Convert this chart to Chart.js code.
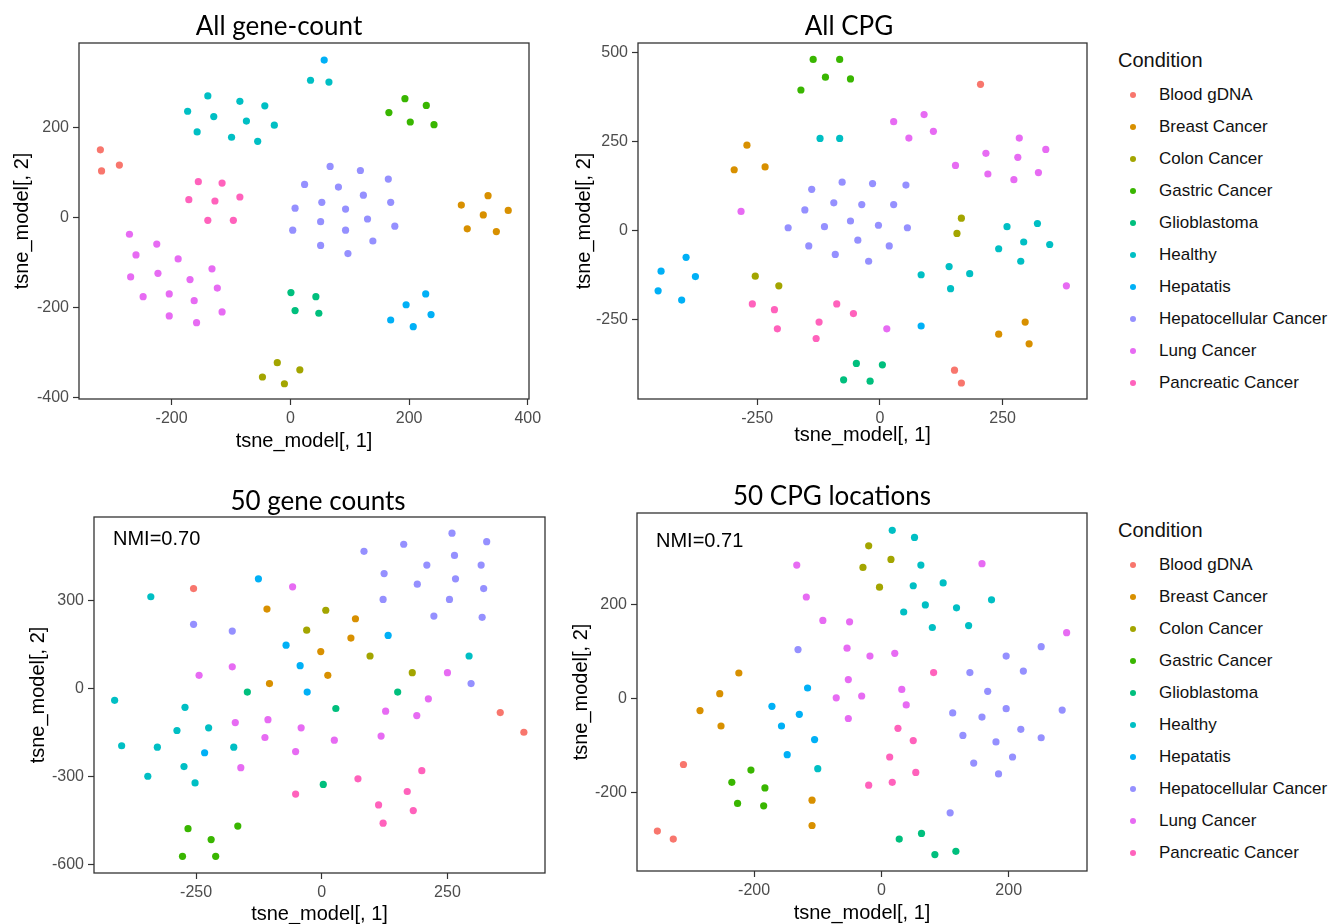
<!DOCTYPE html>
<html>
<head>
<meta charset="utf-8">
<title>t-SNE panels</title>
<script src="https://cdn.jsdelivr.net/npm/chart.js@4.4.1/dist/chart.umd.min.js"></script>
<style>
  body { margin: 0; background: #fff; width: 1330px; height: 924px; overflow: hidden; position: relative;
         font-family: "Liberation Sans", Arial, sans-serif; }
  .panel { position: absolute; }
  .title { position: absolute; font-family: Lato, "Open Sans", sans-serif; font-size: 26px; line-height: 1;
           transform: translateX(-50%); white-space: nowrap; color: #000; }
  .legend { position: absolute; color: #111; }
  .legend h4 { margin: 0; font-weight: normal; font-size: 20px; line-height: 1; }
  .legend .row { position: absolute; left: 0; height: 20px; display: flex; align-items: center; font-size: 17px; white-space: nowrap; }
  .legend .dot { width: 6px; height: 6px; border-radius: 50%; margin-left: 12px; margin-right: 23px; }
</style>
</head>
<body>
<script>
// conditions and ggplot hue colours
const conditions = ['Blood gDNA', 'Breast Cancer', 'Colon Cancer', 'Gastric Cancer', 'Glioblastoma',
  'Healthy', 'Hepatatis', 'Hepatocellular Cancer', 'Lung Cancer', 'Pancreatic Cancer'];
const colors = ['#F8766D', '#D89000', '#A3A500', '#39B600', '#00BF7D',
  '#00BFC4', '#00B0F6', '#9590FF', '#E76BF3', '#FF62BC'];

// points per condition, [tsne1, tsne2]
const allGenePts = [
  [[-320,151],[-318,104],[-288,117]],
  [[288,28],[333,49],[325,6],[367,16],[298,-25],[347,-31]],
  [[-47,-355],[-22,-323],[-10,-370],[16,-339]],
  [[193,265],[229,250],[166,234],[202,213],[242,207]],
  [[1,-167],[8,-207],[43,-176],[48,-213]],
  [[-173,237],[-139,271],[-157,191],[-129,225],[-85,259],[-74,215],[-99,179],[-43,249],[-27,206],[-55,170],[34,306],[65,302]],
  [[57,351],[228,-170],[195,-194],[169,-228],[237,-216],[207,-243]],
  [[24,74],[8,21],[4,-28],[67,114],[118,105],[81,68],[165,86],[53,34],[123,50],[93,19],[169,34],[51,-9],[130,-3],[93,-28],[176,-19],[51,-62],[139,-52],[97,-80]],
  [[-271,-37],[-225,-59],[-260,-83],[-189,-92],[-269,-132],[-223,-124],[-132,-114],[-169,-138],[-123,-157],[-248,-176],[-204,-170],[-162,-185],[-115,-210],[-204,-219],[-158,-234]],
  [[-155,80],[-115,77],[-171,40],[-127,37],[-85,46],[-139,-6],[-96,-6]]
];
const allCpgPts = [
  [[205,411],[152,-392],[166,-428]],
  [[-271,240],[-297,171],[-234,179],[296,-257],[242,-291],[304,-318]],
  [[166,35],[157,-8],[-254,-128],[-206,-155]],
  [[-136,481],[-111,431],[-161,395],[-82,481],[-60,426]],
  [[-48,-373],[5,-377],[-74,-419],[-20,-423]],
  [[-122,259],[-82,259],[259,11],[321,20],[242,-51],[293,-32],[346,-39],[287,-86],[141,-101],[183,-121],[84,-124],[144,-163]],
  [[-395,-75],[-446,-114],[-376,-129],[-452,-169],[-404,-195],[84,-268]],
  [[-139,116],[-153,58],[-187,8],[-113,11],[-145,-43],[-77,136],[-15,132],[53,128],[-94,78],[-37,73],[28,73],[-60,27],[-3,15],[56,8],[-45,-27],[19,-43],[-91,-67],[-23,-86]],
  [[-283,54],[28,306],[90,326],[109,279],[59,260],[284,260],[338,228],[216,217],[281,206],[154,183],[220,159],[273,143],[323,163],[380,-155],[14,-276]],
  [[-260,-206],[-215,-222],[-209,-276],[-124,-257],[-130,-303],[-88,-206],[-54,-233]]
];
const top50GenePts = [
  [[-255,340],[355,-83],[402,-150]],
  [[-109,270],[-104,16],[-2,125],[67,237],[58,171],[12,44]],
  [[-30,198],[8,266],[96,110],[180,53]],
  [[-266,-479],[-167,-470],[-220,-516],[-277,-573],[-211,-573]],
  [[-148,-13],[28,-69],[151,-13],[3,-328]],
  [[-340,312],[-412,-41],[-398,-196],[-272,-65],[-288,-144],[-225,-135],[-327,-201],[-346,-300],[-274,-267],[-252,-323],[-175,-201],[293,110]],
  [[-126,373],[-71,147],[-43,77],[-29,-13],[-233,-220],[132,180]],
  [[-255,218],[-178,195],[259,529],[328,500],[163,491],[84,467],[264,453],[209,420],[317,420],[124,391],[266,373],[190,355],[322,340],[122,303],[254,303],[223,246],[319,242],[297,16]],
  [[-58,346],[-178,73],[-244,44],[-172,-117],[-107,-107],[-113,-168],[-41,-135],[-52,-216],[-161,-271],[25,-177],[127,-78],[118,-163],[189,-93],[212,-36],[250,53]],
  [[-52,-361],[72,-309],[199,-281],[170,-352],[113,-398],[182,-417],[122,-460]]
];
const top50CpgPts = [
  [[-352,-282],[-327,-299],[-311,-140]],
  [[-224,55],[-254,11],[-285,-25],[-252,-58],[-109,-216],[-109,-270]],
  [[-20,326],[15,297],[-29,280],[-3,238]],
  [[-205,-152],[-235,-178],[-183,-190],[-226,-223],[-185,-228]],
  [[28,-299],[63,-287],[84,-332],[117,-325]],
  [[-100,-149],[17,359],[52,344],[62,285],[50,241],[97,247],[173,211],[69,200],[118,194],[35,185],[80,152],[137,156]],
  [[-172,-16],[-129,-33],[-116,23],[-157,-58],[-105,-87],[-148,-119]],
  [[-131,105],[196,91],[251,111],[139,56],[223,59],[167,16],[112,-30],[158,-39],[196,-21],[284,-24],[128,-78],[180,-92],[219,-65],[251,-83],[145,-137],[206,-124],[184,-160],[108,-243]],
  [[-133,285],[-118,217],[-92,167],[-71,2],[158,288],[-50,164],[-54,108],[-18,91],[21,97],[-52,41],[-31,6],[32,20],[39,-13],[-52,-42],[291,141]],
  [[82,56],[26,-63],[50,-89],[13,-124],[54,-157],[-20,-184],[17,-178]]
];

// tick values
const allGeneXTicks = [-200, 0, 200, 400];
const allGeneYTicks = [-400, -200, 0, 200];
const allCpgXTicks = [-250, 0, 250];
const allCpgYTicks = [-250, 0, 250, 500];
const top50GeneXTicks = [-250, 0, 250];
const top50GeneYTicks = [-600, -300, 0, 300];
const top50CpgXTicks = [-200, 0, 200];
const top50CpgYTicks = [-200, 0, 200];

// axis limits (ggplot default expansion)
const allGeneLimits = [-356, 402, -404, 389];
const allCpgLimits = [-493, 422, -473, 527];
const top50GeneLimits = [-453, 444, -630, 584];
const top50CpgLimits = [-384, 323, -367, 396];

const panelTitles = ['All gene-count', 'All CPG', '50 gene counts', '50 CPG locations'];
const nmiLabels = [null, null, 'NMI=0.70', 'NMI=0.71'];

// layout: canvas position and plot box inside it
const layouts = [
  { left: 0,   top: 0,   w: 560, h: 460, yW: 79, xH: 61, padTop: 43, padRight: 31, yTitlePad: 12, xTitlePad: 9, titleX: 279, titleY: 12, nmi: null },
  { left: 560, top: 0,   w: 540, h: 460, yW: 78, xH: 61, padTop: 43, padRight: 13, yTitlePad: 14, xTitlePad: 15, titleX: 849, titleY: 12, nmi: null },
  { left: 0,   top: 470, w: 560, h: 454, yW: 94, xH: 51, padTop: 47, padRight: 15, yTitlePad: 28, xTitlePad: 0, titleX: 318, titleY: 487, nmi: [19, 22] },
  { left: 560, top: 470, w: 540, h: 454, yW: 77, xH: 53, padTop: 43, padRight: 13, yTitlePad: 11, xTitlePad: 1, titleX: 832, titleY: 482, nmi: [19, 28] }
];

const framePlugin = {
  id: 'frame',
  afterDraw(chart, args, opts) {
    const { ctx, chartArea: a } = chart;
    ctx.save();
    ctx.strokeStyle = '#333';
    ctx.lineWidth = 1.3;
    ctx.strokeRect(a.left, a.top, a.right - a.left, a.bottom - a.top);
    if (opts.text) {
      ctx.fillStyle = '#000';
      ctx.font = '20px "Liberation Sans", Arial, sans-serif';
      ctx.textBaseline = 'middle';
      ctx.fillText(opts.text, a.left + opts.dx, a.top + opts.dy);
    }
    ctx.restore();
  }
};

function axis(ticks, lim, fit, titleText, titlePad, horizontal) {
  return {
    type: 'linear',
    min: lim[0],
    max: lim[1],
    afterBuildTicks: (s) => { s.ticks = ticks.map(v => ({ value: v })); },
    afterFit: (s) => { if (horizontal) s.height = fit; else s.width = fit; },
    grid: { drawOnChartArea: false, tickLength: 6, tickColor: '#333', tickWidth: 1.2 },
    border: { display: false },
    ticks: { color: '#4D4D4D', padding: 4, font: { size: 16, family: '"Liberation Sans", Arial, sans-serif' } },
    title: {
      display: true, text: titleText, color: '#000',
      padding: horizontal ? { top: 0, bottom: titlePad } : { top: titlePad, bottom: 0 },
      font: { size: 20, family: '"Liberation Sans", Arial, sans-serif', lineHeight: 1 }
    }
  };
}

function makePanel(i, pts, xTicks, yTicks, lim) {
  const L = layouts[i];
  const wrap = document.createElement('div');
  wrap.className = 'panel';
  wrap.style.cssText = `left:${L.left}px;top:${L.top}px;width:${L.w}px;height:${L.h}px;`;
  const cv = document.createElement('canvas');
  wrap.appendChild(cv);
  document.body.appendChild(wrap);

  const t = document.createElement('div');
  t.className = 'title';
  t.textContent = panelTitles[i];
  t.style.left = L.titleX + 'px';
  t.style.top = L.titleY + 'px';
  document.body.appendChild(t);

  new Chart(cv, {
    type: 'scatter',
    data: {
      datasets: conditions.map((c, k) => ({
        label: c,
        data: pts[k].map(p => ({ x: p[0], y: p[1] })),
        backgroundColor: colors[k],
        borderWidth: 0,
        pointRadius: 3.6,
        pointHoverRadius: 3.6
      }))
    },
    options: {
      responsive: true,
      maintainAspectRatio: false,
      animation: false,
      events: [],
      layout: { padding: { top: L.padTop, right: L.padRight, left: 0, bottom: 0 } },
      scales: {
        x: axis(xTicks, [lim[0], lim[1]], L.xH, 'tsne_model[, 1]', L.xTitlePad, true),
        y: axis(yTicks, [lim[2], lim[3]], L.yW, 'tsne_model[, 2]', L.yTitlePad, false)
      },
      plugins: {
        legend: { display: false },
        tooltip: { enabled: false },
        frame: L.nmi ? { text: nmiLabels[i], dx: L.nmi[0], dy: L.nmi[1] } : {}
      }
    },
    plugins: [framePlugin]
  });
}

function makeLegend(left, top) {
  const lg = document.createElement('div');
  lg.className = 'legend';
  lg.style.left = left + 'px';
  lg.style.top = top + 'px';
  const h = document.createElement('h4');
  h.textContent = 'Condition';
  lg.appendChild(h);
  conditions.forEach((c, k) => {
    const row = document.createElement('div');
    row.className = 'row';
    row.style.top = (35 + k * 32) + 'px';
    const d = document.createElement('span');
    d.className = 'dot';
    d.style.background = colors[k];
    row.appendChild(d);
    row.appendChild(document.createTextNode(c));
    lg.appendChild(row);
  });
  document.body.appendChild(lg);
}

makePanel(0, allGenePts, allGeneXTicks, allGeneYTicks, allGeneLimits);
makePanel(1, allCpgPts, allCpgXTicks, allCpgYTicks, allCpgLimits);
makePanel(2, top50GenePts, top50GeneXTicks, top50GeneYTicks, top50GeneLimits);
makePanel(3, top50CpgPts, top50CpgXTicks, top50CpgYTicks, top50CpgLimits);
makeLegend(1118, 50);
makeLegend(1118, 520);
</script>
</body>
</html>
